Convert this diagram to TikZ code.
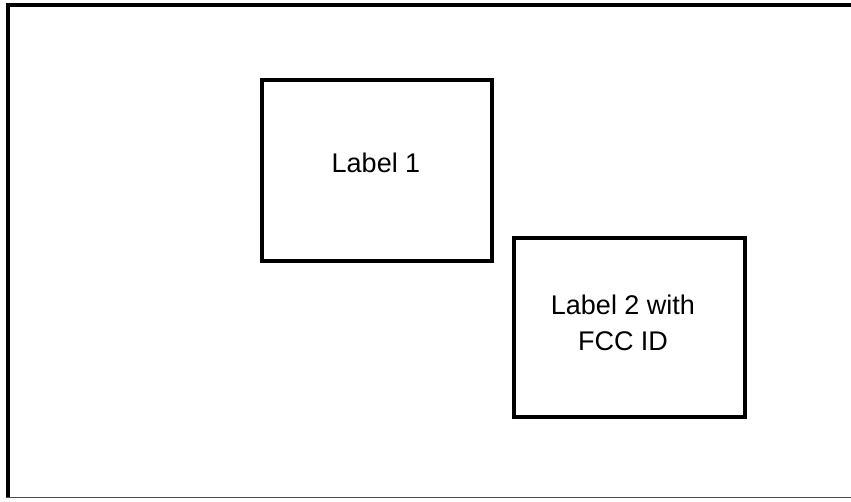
\documentclass[tikz,border=0pt]{standalone}
\usepackage{fontspec}
\setmainfont{Liberation Sans}
\begin{document}
\begin{tikzpicture}[x=1pt,y=-1pt,
  labelbox/.style={draw=black,line width=4pt,fill=white},
  lbl/.style={font=\fontsize{27}{36}\selectfont,inner sep=0pt,anchor=base}]
\useasboundingbox[fill=white] (0,0) rectangle (851,501);
\draw[line width=4pt] (8,498) -- (8,5) -- (860,5);
\draw[line width=1pt,black!70] (6,497.5) -- (860,497.5);
\draw[labelbox] (262,80) rectangle (492,261);
\draw[labelbox] (514,238) rectangle (745,417);
\node[lbl] (l1) at (376,172) {Label 1};
\node[lbl] (l2a) at (623,314) {Label 2 with};
\node[lbl] (l2b) at (623,350) {FCC ID};
\end{tikzpicture}
\end{document}
